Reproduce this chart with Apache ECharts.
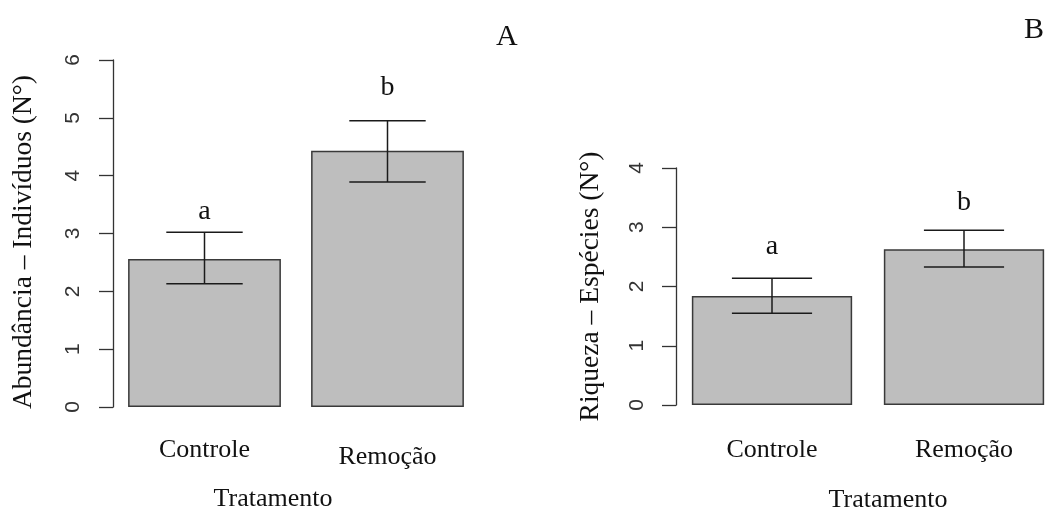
<!DOCTYPE html>
<html>
<head>
<meta charset="utf-8">
<title>Abundância e Riqueza por Tratamento</title>
<script src="https://cdn.jsdelivr.net/npm/echarts@6/dist/echarts.min.js"></script>
<style>
  html, body { margin: 0; padding: 0; background: #ffffff; }
  #chart { width: 1046px; height: 509px; }
</style>
</head>
<body>
<div id="chart"></div>
<script>
// Treatments on the x axis
const categories = ['Controle', 'Remoção'];

// Panel A: abundance (individuals)
const abundMean = [2.56, 4.43];
const abundLower = [2.13, 3.89];
const abundUpper = [3.02, 4.95];
const abundLetters = ['a', 'b'];
const abundLetterY = [3.37, 5.53];
const abundTicks = [0, 1, 2, 3, 4, 5, 6];

// Panel B: richness (species)
const richMean = [1.84, 2.63];
const richLower = [1.55, 2.33];
const richUpper = [2.14, 2.95];
const richLetters = ['a', 'b'];
const richLetterY = [2.67, 3.42];
const richTicks = [0, 1, 2, 3, 4];

const SERIF = '"Liberation Serif", "Times New Roman", serif';
const SANS = '"Liberation Sans", Arial, sans-serif';
const BAR_FRACTION = 0.835;

function yAxisFor(gridIndex, ticks, name, nameGap, namePadding, labelMargin) {
  return {
    type: 'value',
    gridIndex: gridIndex,
    min: ticks[0],
    max: ticks[ticks.length - 1],
    interval: ticks[1] - ticks[0],
    name: name,
    nameLocation: 'middle',
    nameRotate: 90,
    nameGap: nameGap,
    nameTextStyle: { fontFamily: SERIF, fontSize: 27.5, color: '#111', padding: namePadding },
    axisLine: { show: true, lineStyle: { color: '#333', width: 1.3 } },
    axisTick: { show: true, length: 14, lineStyle: { color: '#333', width: 1.3 } },
    splitLine: { show: false },
    axisLabel: {
      rotate: 90,
      margin: labelMargin,
      fontFamily: SANS,
      fontSize: 21,
      color: '#333'
    }
  };
}

function xAxisFor(gridIndex, labelFormatter, labelMargin, nameGap, namePadding) {
  return {
    type: 'category',
    gridIndex: gridIndex,
    data: categories,
    name: 'Tratamento',
    nameLocation: 'middle',
    nameGap: nameGap,
    nameTextStyle: { fontFamily: SERIF, fontSize: 26, color: '#111', padding: namePadding },
    axisLine: { show: false },
    axisTick: { show: false },
    axisLabel: {
      interval: 0,
      hideOverlap: false,
      margin: labelMargin,
      fontFamily: SERIF,
      fontSize: 26,
      color: '#111',
      formatter: labelFormatter,
      rich: {
        n: { fontFamily: SERIF, fontSize: 26, color: '#111', lineHeight: 26 },
        lo: { fontFamily: SERIF, fontSize: 26, color: '#111', lineHeight: 40 }
      }
    }
  };
}

function barSeries(axisIndex, values) {
  return {
    type: 'bar',
    xAxisIndex: axisIndex,
    yAxisIndex: axisIndex,
    data: values,
    barWidth: (BAR_FRACTION * 100) + '%',
    itemStyle: { color: '#bebebe', borderColor: '#3a3a3a', borderWidth: 1.5 },
    silent: true,
    z: 2
  };
}

function errorSeries(axisIndex, lower, upper) {
  return {
    type: 'custom',
    xAxisIndex: axisIndex,
    yAxisIndex: axisIndex,
    data: lower.map((lo, i) => [i, lo, upper[i]]),
    renderItem: function (params, api) {
      const x = api.value(0);
      const lo = api.coord([x, api.value(1)]);
      const hi = api.coord([x, api.value(2)]);
      const half = api.size([1, 0])[0] * BAR_FRACTION / 4;
      const style = { stroke: '#1a1a1a', lineWidth: 1.5 };
      return {
        type: 'group',
        children: [
          { type: 'line', shape: { x1: lo[0], y1: lo[1], x2: hi[0], y2: hi[1] }, style: style },
          { type: 'line', shape: { x1: hi[0] - half, y1: hi[1], x2: hi[0] + half, y2: hi[1] }, style: style },
          { type: 'line', shape: { x1: lo[0] - half, y1: lo[1], x2: lo[0] + half, y2: lo[1] }, style: style }
        ]
      };
    },
    silent: true,
    z: 3
  };
}

function letterSeries(axisIndex, letters, ys) {
  return {
    type: 'custom',
    xAxisIndex: axisIndex,
    yAxisIndex: axisIndex,
    data: ys.map((y, i) => [i, y]),
    renderItem: function (params, api) {
      const p = api.coord([api.value(0), api.value(1)]);
      return {
        type: 'text',
        x: p[0],
        y: p[1],
        style: {
          text: letters[params.dataIndex],
          fontFamily: SERIF,
          fontSize: 28,
          fill: '#111',
          align: 'center',
          verticalAlign: 'middle'
        }
      };
    },
    silent: true,
    z: 4
  };
}

const chart = echarts.init(document.getElementById('chart'), null, { renderer: 'canvas' });

chart.setOption({
  backgroundColor: '#ffffff',
  animation: false,
  title: [
    { text: 'A', left: 491, top: 17, textStyle: { fontFamily: SERIF, fontSize: 30, fontWeight: 'normal', color: '#111' } },
    { text: 'B', left: 1019, top: 10, textStyle: { fontFamily: SERIF, fontSize: 30, fontWeight: 'normal', color: '#111' } }
  ],
  grid: [
    { left: 113, top: 60, width: 366, height: 347, containLabel: false, outerBoundsMode: 'none' },
    { left: 676, top: 168, width: 384, height: 237, containLabel: false, outerBoundsMode: 'none' }
  ],
  xAxis: [
    xAxisFor(0, v => (v === categories[1] ? '{lo|' + v + '}' : '{n|' + v + '}'), 30, 79, [0, 46, 0, 0]),
    xAxisFor(1, v => '{n|' + v + '}', 32, 82, [0, 0, 0, 40])
  ],
  yAxis: [
    yAxisFor(0, abundTicks, 'Abundância – Indivíduos (N°)', 75, [0, 17, 0, 0], 29),
    yAxisFor(1, richTicks, 'Riqueza – Espécies (N°)', 71, 0, 28)
  ],
  series: [
    barSeries(0, abundMean),
    errorSeries(0, abundLower, abundUpper),
    letterSeries(0, abundLetters, abundLetterY),
    barSeries(1, richMean),
    errorSeries(1, richLower, richUpper),
    letterSeries(1, richLetters, richLetterY)
  ]
});
</script>
</body>
</html>
